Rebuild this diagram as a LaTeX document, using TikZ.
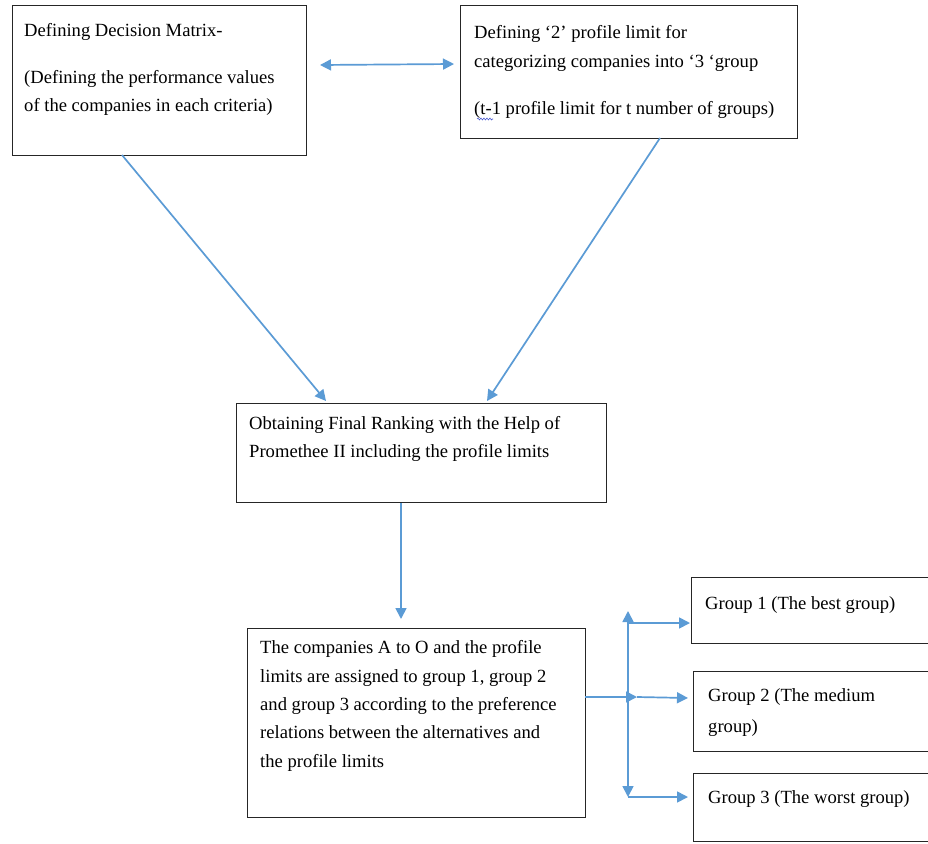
\documentclass[tikz,border=0pt]{standalone}
\usepackage{fontspec}
\setmainfont{Liberation Serif}
\usetikzlibrary{arrows.meta,decorations.pathmorphing}
\definecolor{arrowblue}{HTML}{5B9BD5}
\definecolor{spellblue}{HTML}{4A5AD0}
\tikzset{
  box/.style={draw=black!85, line width=1.3pt, rectangle, inner sep=0pt, anchor=north west},
  txt/.style={inner sep=0pt, anchor=base west, font=\fontsize{18.6}{28}\selectfont},
  conn/.style={draw=arrowblue, line width=1.7pt, -{Triangle[length=11pt,width=11pt]}},
  dconn/.style={draw=arrowblue, line width=1.7pt, {Triangle[length=11pt,width=11pt]}-{Triangle[length=11pt,width=11pt]}},
  plain/.style={draw=arrowblue, line width=1.7pt}
}
\begin{document}
\begin{tikzpicture}[x=1pt,y=-1pt]
\clip (0,0) rectangle (928,843);
\fill[white] (0,0) rectangle (928,843);

% boxes
\node[box, minimum width=294pt, minimum height=150pt] (b1) at (12,5) {};
\node[box, minimum width=337pt, minimum height=133pt] (b2) at (460,5) {};
\node[box, minimum width=370pt, minimum height=99pt] (b3) at (236,403) {};
\node[box, minimum width=338pt, minimum height=189pt] (b4) at (247,628) {};
\node[box, minimum width=260pt, minimum height=66pt] (g1) at (691,577) {};
\node[box, minimum width=260pt, minimum height=80pt] (g2) at (693,671) {};
\node[box, minimum width=260pt, minimum height=68pt] (g3) at (693,773) {};

% texts
\node[txt] (t1a) at (24,37) {Defining Decision Matrix-};
\node[txt] (t1b) at (24,83) {(Defining the performance values};
\node[txt] (t1c) at (24,111) {of the companies in each criteria)};

\node[txt] (t2a) at (474,38) {Defining ‘2’ profile limit for};
\node[txt] (t2b) at (474,67) {categorizing companies into ‘3 ‘group};
\node[txt] (t2c) at (474,114) {(t-1 profile limit for t number of groups)};
\coordinate (sq1) at (477,119);
\coordinate (sq2) at (493,119);
\draw[spellblue, line width=0.6pt, decorate, decoration={snake, segment length=3pt, amplitude=0.9pt}] (sq1) -- (sq2);

\node[txt] (t3a) at (249,429) {Obtaining Final Ranking with the Help of};
\node[txt] (t3b) at (249,457) {Promethee II including the profile limits};

\node[txt] (t4a) at (260,653) {The companies A to O and the profile};
\node[txt] (t4b) at (260,682) {limits are assigned to group 1, group 2};
\node[txt] (t4c) at (260,710) {and group 3 according to the preference};
\node[txt] (t4d) at (260,738) {relations between the alternatives and};
\node[txt] (t4e) at (260,767) {the profile limits};

\node[txt] (tg1) at (705,609) {Group 1 (The best group)};
\node[txt] (tg2a) at (708,701) {Group 2 (The medium};
\node[txt] (tg2b) at (708,732) {group)};
\node[txt] (tg3) at (708,803) {Group 3 (The worst group)};

% connector end points
\coordinate (d1) at (320,65);
\coordinate (d2) at (454,64);
\coordinate (s1) at (122,155);
\coordinate (e1) at (326,401);
\coordinate (s2) at (660,138);
\coordinate (e2) at (487,401);
\coordinate (s3) at (401,503);
\coordinate (e3) at (401,619);
\coordinate (m0) at (585,697);
\coordinate (m1) at (637,697);
\coordinate (m2) at (688,698);
\coordinate (vt) at (628,611);
\coordinate (vb) at (628,797);
\coordinate (vm) at (628,697);
\coordinate (h1a) at (628,623);
\coordinate (h1b) at (690,623);
\coordinate (h3a) at (628,797);
\coordinate (h3b) at (688,797);

% connectors
\draw[dconn] (d1) -- (d2);
\draw[conn] (s1) -- (e1);
\draw[conn] (s2) -- (e2);
\draw[conn] (s3) -- (e3);
\draw[conn] (m0) -- (m1);
\draw[conn] (m1) -- (m2);
\draw[conn] (vm) -- (vt);
\draw[conn] (vm) -- (vb);
\draw[conn] (h1a) -- (h1b);
\draw[conn] (h3a) -- (h3b);
\end{tikzpicture}
\end{document}
